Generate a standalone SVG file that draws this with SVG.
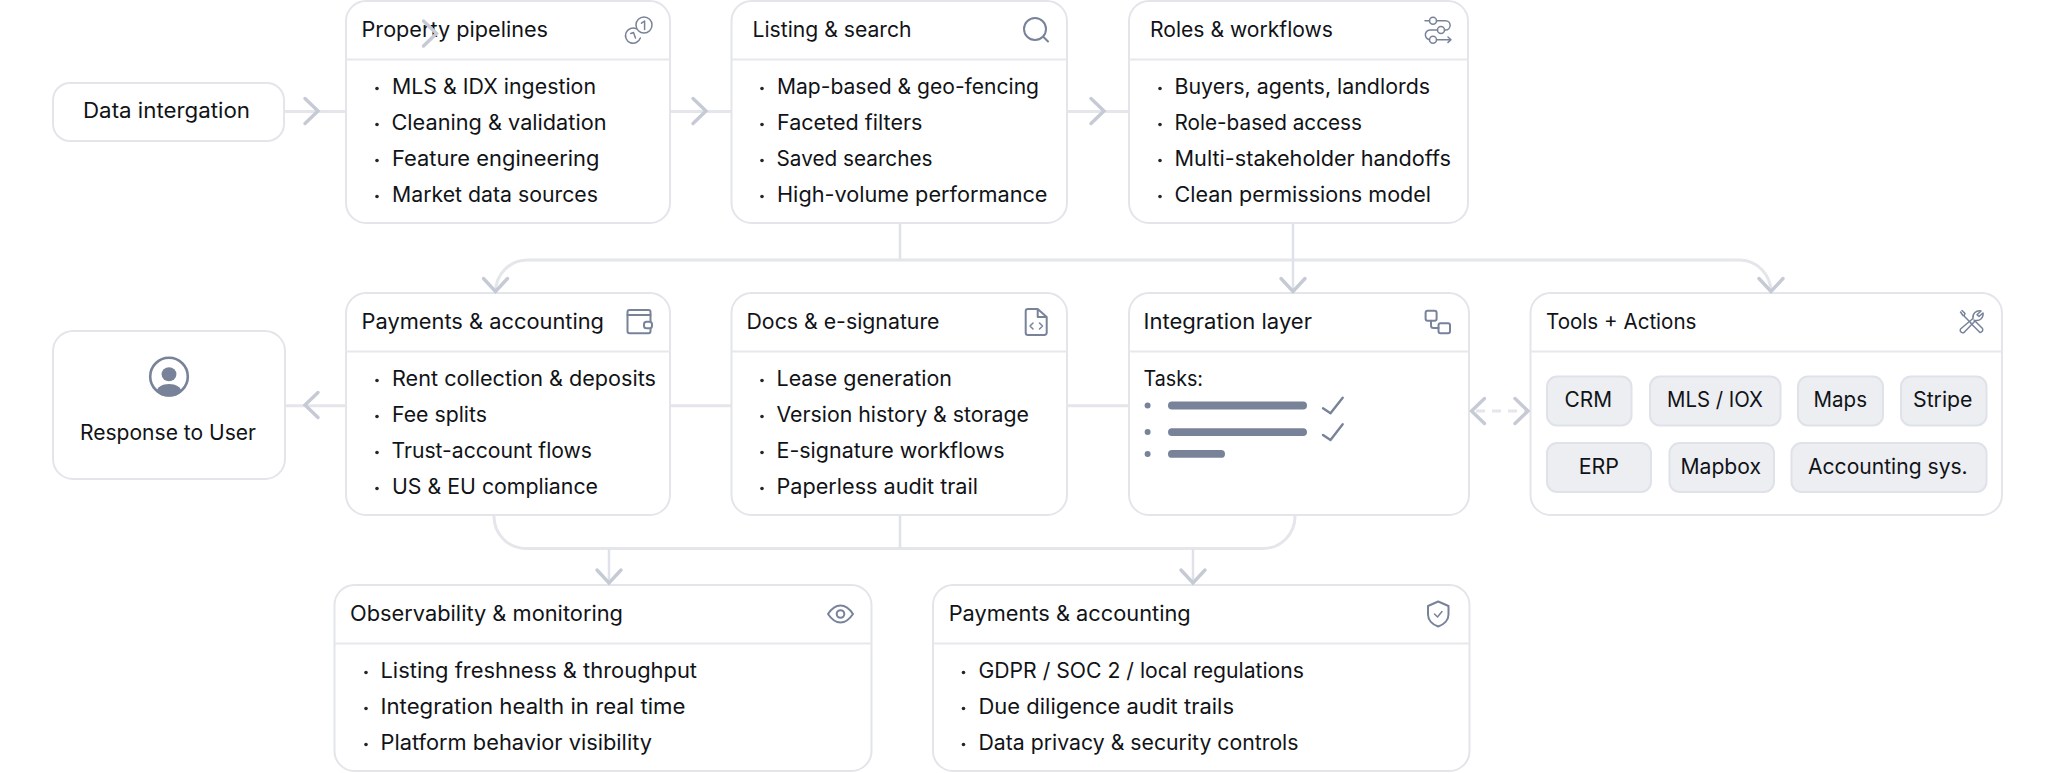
<svg xmlns="http://www.w3.org/2000/svg" xmlns:xlink="http://www.w3.org/1999/xlink" width="2056" height="773" viewBox="0 0 2056 773">
<style>
text{font-family:"Inter","Noto Sans","Liberation Sans",sans-serif;font-size:21px;fill:#111317;transform:translate(-1px,0)}
.chip+text{transform:none}
.box{fill:#fff;stroke:#e3e5ea;stroke-width:2}
.div{stroke:#e6e8ec;stroke-width:2;fill:none}
.dot{fill:#23262c}
.ic{fill:none;stroke:#78839a;stroke-width:2;stroke-linecap:round;stroke-linejoin:round}
.ict{fill:none;stroke:#78839a;stroke-width:1.5;stroke-linecap:round;stroke-linejoin:round}
.chk{fill:none;stroke:#78839a;stroke-width:2.4;stroke-linecap:round;stroke-linejoin:round}
.fillic{fill:#78839a}
.chip{fill:#eceef2;stroke:#dfe2e8;stroke-width:2}
.ln{fill:none;stroke:#e4e6eb;stroke-width:3}
.lnv{fill:none;stroke:#dfe2e8;stroke-width:2.5}
.ah{fill:none;stroke:#c6cad5;stroke-width:3.4;stroke-linecap:round;stroke-linejoin:miter}
</style>
<defs>
<path id="chev-r" class="ah" d="M-13,-12.5L0,0L-13,12.5"/>
<path id="chev-l" class="ah" d="M13,-12.5L0,0L13,12.5"/>
<path id="chev-d" class="ah" d="M-12,-13L0,0L12,-13"/>
</defs>
<rect width="2056" height="773" fill="#fff"/>

<g id="node-data-integration">
<rect class="box" x="53" y="83" width="231" height="58" rx="17"/>
<text x="84" y="118" textLength="167" lengthAdjust="spacingAndGlyphs">Data intergation</text>
</g>

<g id="node-property-pipelines">
<rect class="box" x="346" y="1" width="324" height="222" rx="20"/>
<line class="div" x1="346" y1="59.5" x2="670" y2="59.5"/>
<text x="362.5" y="36.5" textLength="186.5" lengthAdjust="spacingAndGlyphs">Property pipelines</text>
<circle class="ict" cx="644" cy="25" r="8"/>
<path class="ict" d="M641.5,23.2L644.6,21V29.5"/>
<path class="ict" d="M636.5,28.8A7.6,7.6 0 1 0 640.3,38"/>
<path class="ict" d="M630.8,33.5L633.5,32.5L635.5,38"/>
<circle class="dot" cx="377" cy="88.5" r="1.8"/><text x="393" y="94" textLength="204" lengthAdjust="spacingAndGlyphs">MLS &amp; IDX ingestion</text>
<circle class="dot" cx="377" cy="124.5" r="1.8"/><text x="392.5" y="130" textLength="215" lengthAdjust="spacingAndGlyphs">Cleaning &amp; validation</text>
<circle class="dot" cx="377" cy="160.5" r="1.8"/><text x="393" y="166" textLength="207.5" lengthAdjust="spacingAndGlyphs">Feature engineering</text>
<circle class="dot" cx="377" cy="196.5" r="1.8"/><text x="393" y="202" textLength="206" lengthAdjust="spacingAndGlyphs">Market data sources</text>
</g>

<g id="node-listing-search">
<rect class="box" x="731.5" y="1" width="335.5" height="222" rx="20"/>
<line class="div" x1="731.5" y1="59.5" x2="1067" y2="59.5"/>
<text x="753.5" y="36.5" textLength="159" lengthAdjust="spacingAndGlyphs">Listing &amp; search</text>
<circle class="ic" cx="1035" cy="29" r="11"/>
<line class="ic" x1="1043.5" y1="37" x2="1048" y2="41.5"/>
<circle class="dot" cx="762" cy="88.5" r="1.8"/><text x="778" y="94" textLength="262" lengthAdjust="spacingAndGlyphs">Map-based &amp; geo-fencing</text>
<circle class="dot" cx="762" cy="124.5" r="1.8"/><text x="778" y="130" textLength="145.5" lengthAdjust="spacingAndGlyphs">Faceted filters</text>
<circle class="dot" cx="762" cy="160.5" r="1.8"/><text x="777.5" y="166" textLength="156" lengthAdjust="spacingAndGlyphs">Saved searches</text>
<circle class="dot" cx="762" cy="196.5" r="1.8"/><text x="778" y="202" textLength="270.5" lengthAdjust="spacingAndGlyphs">High-volume performance</text>
</g>

<g id="node-roles-workflows">
<rect class="box" x="1129" y="1" width="339" height="222" rx="20"/>
<line class="div" x1="1129" y1="59.5" x2="1468" y2="59.5"/>
<text x="1151" y="36.5" textLength="183" lengthAdjust="spacingAndGlyphs">Roles &amp; workflows</text>
<circle class="ict" cx="1433" cy="20.7" r="3.5"/>
<circle class="ict" cx="1441" cy="30" r="3.5"/>
<circle class="ict" cx="1433" cy="39.7" r="3.5"/>
<path class="ict" d="M1425,20.7H1429.5M1436.5,20.7H1445.5A4.6,4.6 0 0 1 1445.5,30H1444.5M1437.5,30H1431A4.8,4.8 0 0 0 1429.5,39.7M1436.5,39.7H1451M1448,37L1451,39.7L1448,42.4"/>
<circle class="dot" cx="1160" cy="88.5" r="1.8"/><text x="1175.5" y="94" textLength="255.5" lengthAdjust="spacingAndGlyphs">Buyers, agents, landlords</text>
<circle class="dot" cx="1160" cy="124.5" r="1.8"/><text x="1175.5" y="130" textLength="187.5" lengthAdjust="spacingAndGlyphs">Role-based access</text>
<circle class="dot" cx="1160" cy="160.5" r="1.8"/><text x="1175.5" y="166" textLength="276.5" lengthAdjust="spacingAndGlyphs">Multi-stakeholder handoffs</text>
<circle class="dot" cx="1160" cy="196.5" r="1.8"/><text x="1175.5" y="202" textLength="256.5" lengthAdjust="spacingAndGlyphs">Clean permissions model</text>
</g>

<g id="node-response-to-user">
<rect class="box" x="53" y="331" width="232" height="148" rx="20"/>
<circle cx="169" cy="376.5" r="18.8" fill="none" stroke="#78839a" stroke-width="2.6"/>
<ellipse class="fillic" cx="169" cy="374.3" rx="7.4" ry="7"/>
<path class="fillic" d="M156.5,392A18.5,18.5 0 0 0 181.5,392C181,387 176,384 169,384C162,384 157,387 156.5,392Z"/>
<text x="81" y="439.5" textLength="176" lengthAdjust="spacingAndGlyphs">Response to User</text>
</g>

<g id="node-payments-accounting">
<rect class="box" x="346" y="293" width="324" height="222" rx="20"/>
<line class="div" x1="346" y1="351.5" x2="670" y2="351.5"/>
<text x="362.5" y="328.5" textLength="242.5" lengthAdjust="spacingAndGlyphs">Payments &amp; accounting</text>
<rect class="ic" x="627.5" y="310" width="23" height="23.3" rx="2"/>
<line class="ic" x1="627.5" y1="315" x2="650.5" y2="315"/>
<rect x="644" y="321.7" width="8" height="6.6" rx="2.5" fill="#fff" stroke="#78839a" stroke-width="2"/>
<circle class="dot" cx="377" cy="380.5" r="1.8"/><text x="393" y="386" textLength="264" lengthAdjust="spacingAndGlyphs">Rent collection &amp; deposits</text>
<circle class="dot" cx="377" cy="416.5" r="1.8"/><text x="393" y="422" textLength="95" lengthAdjust="spacingAndGlyphs">Fee splits</text>
<circle class="dot" cx="377" cy="452.5" r="1.8"/><text x="392.5" y="458" textLength="200.5" lengthAdjust="spacingAndGlyphs">Trust-account flows</text>
<circle class="dot" cx="377" cy="488.5" r="1.8"/><text x="393" y="494" textLength="206" lengthAdjust="spacingAndGlyphs">US &amp; EU compliance</text>
</g>

<g id="node-docs-esignature">
<rect class="box" x="731.5" y="293" width="335.5" height="222" rx="20"/>
<line class="div" x1="731.5" y1="351.5" x2="1067" y2="351.5"/>
<text x="747.5" y="328.5" textLength="193" lengthAdjust="spacingAndGlyphs">Docs &amp; e-signature</text>
<path class="ic" d="M1037.7,309H1028A2.3,2.3 0 0 0 1025.7,311.3V332.7A2.3,2.3 0 0 0 1028,335H1044.4A2.3,2.3 0 0 0 1046.7,332.7V317ZM1037.7,309V317H1046.7"/>
<path class="ict" d="M1033,323L1030,326L1033,329M1039.5,323L1042.5,326L1039.5,329"/>
<circle class="dot" cx="762" cy="380.5" r="1.8"/><text x="777.5" y="386" textLength="175.5" lengthAdjust="spacingAndGlyphs">Lease generation</text>
<circle class="dot" cx="762" cy="416.5" r="1.8"/><text x="777.5" y="422" textLength="252.5" lengthAdjust="spacingAndGlyphs">Version history &amp; storage</text>
<circle class="dot" cx="762" cy="452.5" r="1.8"/><text x="777.5" y="458" textLength="228" lengthAdjust="spacingAndGlyphs">E-signature workflows</text>
<circle class="dot" cx="762" cy="488.5" r="1.8"/><text x="777.5" y="494" textLength="201.5" lengthAdjust="spacingAndGlyphs">Paperless audit trail</text>
</g>

<g id="node-integration-layer">
<rect class="box" x="1129" y="293" width="340" height="222" rx="20"/>
<line class="div" x1="1129" y1="351.5" x2="1469" y2="351.5"/>
<text x="1144.5" y="328.5" textLength="168.5" lengthAdjust="spacingAndGlyphs">Integration layer</text>
<rect class="ic" x="1425.6" y="310.7" width="11" height="10" rx="2"/>
<rect class="ic" x="1438.5" y="323.3" width="11.5" height="10" rx="2"/>
<path class="ic" d="M1431,320.7V325.5A2.5,2.5 0 0 0 1433.5,328H1438.5"/>
<text x="1144.5" y="386" textLength="59.5" lengthAdjust="spacingAndGlyphs">Tasks:</text>
<circle class="fillic" cx="1147.6" cy="405.5" r="3"/><rect class="fillic" x="1168" y="401.6" width="139" height="7.8" rx="3.9"/>
<path class="chk" d="M1323,408.3L1330.5,413.3L1342.7,397.7"/>
<circle class="fillic" cx="1147.6" cy="432" r="3"/><rect class="fillic" x="1168" y="428.2" width="139" height="7.8" rx="3.9"/>
<path class="chk" d="M1323,435L1330.5,440L1342.7,424.3"/>
<circle class="fillic" cx="1147.6" cy="454" r="3"/><rect class="fillic" x="1168" y="450" width="57" height="7.8" rx="3.9"/>
</g>

<g id="node-tools-actions">
<rect class="box" x="1530.5" y="293" width="471.5" height="222" rx="20"/>
<line class="div" x1="1530.5" y1="351.5" x2="2002" y2="351.5"/>
<text x="1547" y="328.5" textLength="150.5" lengthAdjust="spacingAndGlyphs">Tools + Actions</text>
<path class="ict" d="M1962,310.5L1965,313.5L1964,316L1971,323M1960.5,312L1963,315.5M1974,320L1982.5,328.5A2.8,2.8 0 0 1 1980,332.5L1970.5,323"/>
<path class="ict" d="M1981,311A6.5,6.5 0 0 0 1973,318.5L1960.5,329A2.6,2.6 0 0 0 1964,332.5L1975.5,320.5A6.5,6.5 0 0 0 1983,313L1979,316.5L1977,314.8Z"/>
<rect class="chip" x="1547" y="376.5" width="84.5" height="49" rx="10"/><text x="1564.5" y="406.7" textLength="47.5" lengthAdjust="spacingAndGlyphs">CRM</text>
<rect class="chip" x="1650" y="376.5" width="130.5" height="49" rx="10"/><text x="1667" y="406.7" textLength="96" lengthAdjust="spacingAndGlyphs">MLS / IOX</text>
<rect class="chip" x="1798" y="376.5" width="85" height="49" rx="10"/><text x="1813.5" y="406.7" textLength="53.5" lengthAdjust="spacingAndGlyphs">Maps</text>
<rect class="chip" x="1901" y="376.5" width="85.5" height="49" rx="10"/><text x="1913" y="406.7" textLength="59.5" lengthAdjust="spacingAndGlyphs">Stripe</text>
<rect class="chip" x="1547" y="443" width="104" height="49" rx="10"/><text x="1578.7" y="473.5" textLength="40.3" lengthAdjust="spacingAndGlyphs">ERP</text>
<rect class="chip" x="1669.5" y="443" width="104.5" height="49" rx="10"/><text x="1680.5" y="473.5" textLength="80.5" lengthAdjust="spacingAndGlyphs">Mapbox</text>
<rect class="chip" x="1791.5" y="443" width="195" height="49" rx="10"/><text x="1808" y="473.5" textLength="159.7" lengthAdjust="spacingAndGlyphs">Accounting sys.</text>
</g>

<g id="node-observability">
<rect class="box" x="334.5" y="585" width="537" height="186" rx="20"/>
<line class="div" x1="334.5" y1="643.5" x2="871.5" y2="643.5"/>
<text x="351" y="620.5" textLength="273" lengthAdjust="spacingAndGlyphs">Observability &amp; monitoring</text>
<path class="ic" d="M828,614C832,608 836,605.5 840.5,605.5C845,605.5 849,608 853,614C849,620 845,622.5 840.5,622.5C836,622.5 832,620 828,614Z"/>
<circle class="ic" cx="840.5" cy="614" r="3.8"/>
<circle class="dot" cx="366" cy="672.5" r="1.8"/><text x="381.5" y="678.3" textLength="316.5" lengthAdjust="spacingAndGlyphs">Listing freshness &amp; throughput</text>
<circle class="dot" cx="366" cy="708.5" r="1.8"/><text x="381.5" y="714.3" textLength="305" lengthAdjust="spacingAndGlyphs">Integration health in real time</text>
<circle class="dot" cx="366" cy="744.5" r="1.8"/><text x="381.5" y="750.3" textLength="271.5" lengthAdjust="spacingAndGlyphs">Platform behavior visibility</text>
</g>

<g id="node-payments-compliance">
<rect class="box" x="933" y="585" width="536.5" height="186" rx="20"/>
<line class="div" x1="933" y1="643.5" x2="1469.5" y2="643.5"/>
<text x="949.7" y="620.5" textLength="242" lengthAdjust="spacingAndGlyphs">Payments &amp; accounting</text>
<path class="ic" d="M1438.2,601.5L1448.5,606V614.5C1448.5,620 1444,624.5 1438.2,626.5C1432.4,624.5 1428,620 1428,614.5V606Z"/>
<path class="ict" d="M1434.5,614L1437.5,617L1442,611.5"/>
<circle class="dot" cx="963.5" cy="672.5" r="1.8"/><text x="979.5" y="678.3" textLength="325.5" lengthAdjust="spacingAndGlyphs">GDPR / SOC 2 / local regulations</text>
<circle class="dot" cx="963.5" cy="708.5" r="1.8"/><text x="979.5" y="714.3" textLength="255.5" lengthAdjust="spacingAndGlyphs">Due diligence audit trails</text>
<circle class="dot" cx="963.5" cy="744.5" r="1.8"/><text x="979.5" y="750.3" textLength="320" lengthAdjust="spacingAndGlyphs">Data privacy &amp; security controls</text>
</g>

<g id="connectors">
<path class="ln" d="M285,111.5H346"/><use href="#chev-r" x="318" y="111"/>
<path class="ln" d="M671,111.5H731"/><use href="#chev-r" x="706" y="111"/>
<path class="ln" d="M1068,111.5H1129"/><use href="#chev-r" x="1104" y="111"/>
<use href="#chev-r" x="436.5" y="33.5"/>
<path class="lnv" d="M900,224V260"/>
<path class="ln" d="M495.5,291V292A32,32 0 0 1 527.5,260H1739A32,32 0 0 1 1771,292V291"/>
<path class="lnv" d="M1293,224V291"/>
<use href="#chev-d" x="495.5" y="291.5"/><use href="#chev-d" x="1293" y="291.5"/><use href="#chev-d" x="1771" y="291.5"/>
<path class="ln" d="M286,405.7H346M671,405.7H731M1068,405.7H1128"/>
<use href="#chev-l" x="305" y="405"/>
<path class="ln" stroke-dasharray="9 7" d="M1476,411H1526"/>
<use href="#chev-l" x="1471.5" y="411"/>
<use href="#chev-r" x="1528" y="411"/>
<path class="ln" d="M494,516V516A32,32 0 0 0 526,548.5H1263A32,32 0 0 0 1295,516"/>
<path class="lnv" d="M900,516V548"/>
<path class="lnv" d="M609,549V583M1193,549V583"/>
<use href="#chev-d" x="609" y="583"/><use href="#chev-d" x="1193" y="583"/>
</g>
</svg>
